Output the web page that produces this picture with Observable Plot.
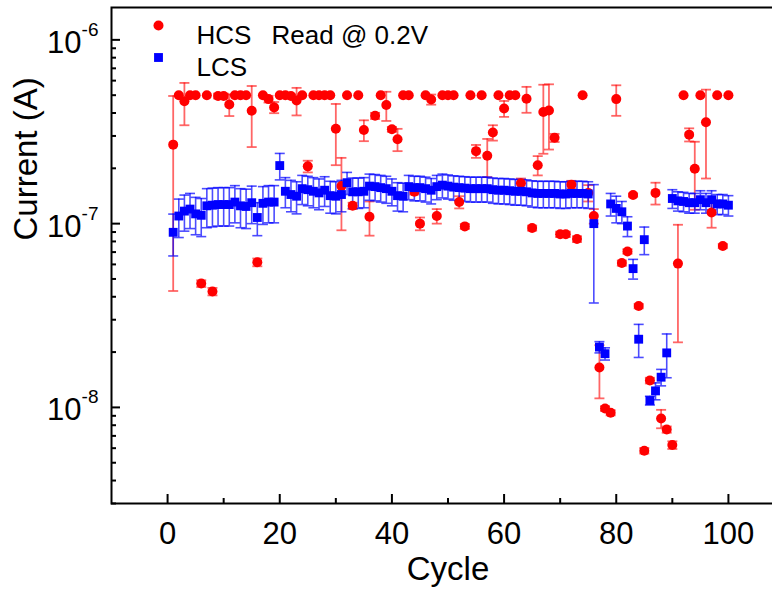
<!DOCTYPE html>
<html><head><meta charset="utf-8">
<script src="https://cdn.jsdelivr.net/npm/d3@7"></script>
<script src="https://cdn.jsdelivr.net/npm/@observablehq/plot@0.6"></script>
<style>
html,body{margin:0;padding:0;overflow:hidden;background:#fff;}
svg{max-width:none !important;}
</style></head><body>
<script>
const cycles = [
1,2,3,4,5,6,7,8,9,10,11,12,13,14,15,16,17,18,19,20,
21,22,23,24,25,26,27,28,29,30,31,32,33,34,35,36,37,38,39,40,
41,42,43,44,45,46,47,48,49,50,51,52,53,54,55,56,57,58,59,60,
61,62,63,64,65,66,67,68,69,70,71,72,73,74,75,76,77,78,79,80,
81,82,83,84,85,86,87,88,89,90,91,92,93,94,95,96,97,98,99,100];

const hcsCurrent = [
2.69e-7, 5.0e-7, 4.63e-7, 5.0e-7, 5.0e-7, 4.72e-8, 5.0e-7, 4.27e-8, 4.95e-7, 4.95e-7,
4.45e-7, 5.0e-7, 5.0e-7, 5.0e-7, 4.11e-7, 6.16e-8, 5.0e-7, 4.76e-7, 4.29e-7, 5.0e-7,
5.0e-7, 4.95e-7, 4.68e-7, 5.0e-7, 2.05e-7, 5.0e-7, 5.0e-7, 5.0e-7, 5.0e-7, 3.28e-7,
1.6e-7, 5.0e-7, 1.25e-7, 5.0e-7, 3.23e-7, 1.09e-7, 3.86e-7, 5.0e-7, 4.42e-7, 3.26e-7,
2.88e-7, 5.0e-7, 5.0e-7, 1.49e-7, 1.0e-7, 5.0e-7, 4.74e-7, 1.1e-7, 5.0e-7, 5.0e-7,
5.0e-7, 1.31e-7, 9.66e-8, 5.0e-7, 2.48e-7, 5.0e-7, 2.34e-7, 3.13e-7, 5.0e-7, 4.23e-7,
5.0e-7, 5.0e-7, 1.66e-7, 4.78e-7, 9.46e-8, 2.08e-7, 4.05e-7, 4.13e-7, 2.93e-7, 8.75e-8,
8.75e-8, 1.63e-7, 8.24e-8, 5.0e-7, 1.47e-7, 1.1e-7, 1.65e-8, 9.86e-9, 9.35e-9, 4.76e-7,
6.1e-8, 7.06e-8, 1.43e-7, 3.56e-8, 5.81e-9, 1.4e-8, 1.47e-7, 8.7e-9, 7.58e-9, 6.24e-9,
6.06e-8, 5.0e-7, 3.05e-7, 1.99e-7, 5.0e-7, 3.56e-7, 1.15e-7, 5.0e-7, 7.55e-8, 5.0e-7];

const hcsError = [
2.26e-7, 0, 1.2e-7, 0, 0, 2e-9, 0, 2e-9, 1.5e-8, 1.5e-8,
6e-8, 0, 0, 0, 1.5e-7, 3e-9, 0, 2e-8, 3e-8, 0,
0, 1e-8, 8e-8, 0, 1.5e-8, 0, 0, 0, 0, 1.2e-7,
6.8e-8, 0, 5e-9, 0, 4.2e-8, 2.3e-8, 1.5e-8, 0, 8e-8, 1e-8,
4e-8, 0, 0, 5e-9, 8e-9, 0, 3e-8, 1e-8, 0, 0,
0, 1e-8, 3e-9, 0, 2e-8, 0, 5.5e-8, 3e-8, 0, 4.2e-8,
0, 0, 1e-8, 7.7e-8, 3e-9, 2.5e-8, 1.65e-7, 1.6e-7, 1.5e-8, 3e-9,
3e-9, 8e-9, 3e-9, 0, 1.5e-8, 1e-8, 5.3e-9, 3e-10, 3e-10, 9e-8,
2e-9, 2e-9, 3e-9, 1e-9, 2e-10, 5e-10, 2e-8, 1e-9, 3e-10, 3e-10,
3.8e-8, 0, 2.5e-8, 8e-8, 0, 1.8e-7, 2e-8, 0, 2e-9, 0];

const lcsCurrent = [
8.97e-8, 1.10e-7, 1.17e-7, 1.20e-7, 1.13e-7, 1.11e-7, 1.25e-7, 1.26e-7, 1.27e-7, 1.27e-7,
1.27e-7, 1.31e-7, 1.25e-7, 1.24e-7, 1.30e-7, 1.08e-7, 1.29e-7, 1.31e-7, 1.31e-7, 2.07e-7,
1.50e-7, 1.44e-7, 1.41e-7, 1.55e-7, 1.53e-7, 1.50e-7, 1.47e-7, 1.52e-7, 1.42e-7, 1.41e-7,
1.44e-7, 1.67e-7, 1.49e-7, 1.49e-7, 1.50e-7, 1.60e-7, 1.59e-7, 1.57e-7, 1.55e-7, 1.50e-7,
1.42e-7, 1.41e-7, 1.59e-7, 1.57e-7, 1.57e-7, 1.55e-7, 1.52e-7, 1.59e-7, 1.62e-7, 1.60e-7,
1.58e-7, 1.57e-7, 1.56e-7, 1.55e-7, 1.55e-7, 1.55e-7, 1.55e-7, 1.53e-7, 1.52e-7, 1.52e-7,
1.51e-7, 1.50e-7, 1.50e-7, 1.49e-7, 1.47e-7, 1.46e-7, 1.46e-7, 1.46e-7, 1.46e-7, 1.45e-7,
1.45e-7, 1.46e-7, 1.46e-7, 1.46e-7, 1.45e-7, 1.00e-7, 2.13e-8, 1.96e-8, 1.28e-7, 1.21e-7,
1.16e-7, 9.7e-8, 5.69e-8, 2.35e-8, 8.18e-8, 1.09e-8, 1.23e-8, 1.46e-8, 1.98e-8, 1.37e-7,
1.33e-7, 1.32e-7, 1.30e-7, 1.30e-7, 1.35e-7, 1.30e-7, 1.35e-7, 1.28e-7, 1.28e-7, 1.26e-7];

const lcsError = [
2.3e-8, 2.6e-8, 2.6e-8, 2.6e-8, 2.6e-8, 2.6e-8, 3.0e-8, 3.0e-8, 3.0e-8, 3.0e-8,
3.0e-8, 3.0e-8, 3.0e-8, 3.0e-8, 3.0e-8, 2.2e-8, 3.0e-8, 3.0e-8, 3.0e-8, 3.4e-8,
2.8e-8, 2.8e-8, 2.8e-8, 2.8e-8, 2.8e-8, 2.8e-8, 2.8e-8, 2.8e-8, 2.8e-8, 2.8e-8,
2.8e-8, 2.3e-8, 2.8e-8, 2.8e-8, 2.8e-8, 2.6e-8, 2.6e-8, 2.6e-8, 2.6e-8, 2.5e-8,
2.5e-8, 2.5e-8, 2.4e-8, 2.4e-8, 2.4e-8, 2.4e-8, 2.4e-8, 2.4e-8, 2.4e-8, 2.4e-8,
2.4e-8, 2.4e-8, 2.4e-8, 2.4e-8, 2.4e-8, 2.4e-8, 2.4e-8, 2.4e-8, 2.4e-8, 2.4e-8,
2.4e-8, 2.4e-8, 2.4e-8, 2.4e-8, 2.4e-8, 2.4e-8, 2.4e-8, 2.4e-8, 2.4e-8, 2.4e-8,
2.4e-8, 2.4e-8, 2.4e-8, 2.4e-8, 2.4e-8, 6.3e-8, 1.5e-9, 1.5e-9, 1.8e-8, 2.0e-8,
1.6e-8, 1.2e-8, 7e-9, 4.8e-9, 1.4e-8, 6e-10, 1.3e-9, 1.5e-9, 5.3e-9, 1.6e-8,
1.6e-8, 1.6e-8, 1.6e-8, 1.6e-8, 1.6e-8, 1.6e-8, 1.6e-8, 1.6e-8, 1.6e-8, 1.6e-8];

const seriesNames = ["HCS", "LCS"];
const annotation = "Read @ 0.2V";
const xLabel = "Cycle";
const yLabel = "Current (A)";
const xMajorTicks = [0, 20, 40, 60, 80, 100];
const xMinorTicks = [10, 30, 50, 70, 90];
const yMajorTicks = [1e-8, 1e-7, 1e-6];
const yMinorTicks = [3e-9, 4e-9, 5e-9, 6e-9, 7e-9, 8e-9, 9e-9,
  2e-8, 3e-8, 4e-8, 5e-8, 6e-8, 7e-8, 8e-8, 9e-8,
  2e-7, 3e-7, 4e-7, 5e-7, 6e-7, 7e-7, 8e-7, 9e-7];

const hcs = cycles.map((c, i) => ({c, v: hcsCurrent[i], e: hcsError[i]}));
const lcs = cycles.map((c, i) => ({c, v: lcsCurrent[i], e: lcsError[i]}));
const hErr = hcs.filter(d => d.e > 0);
const lErr = lcs.filter(d => d.e > 0);

const W = 790, H = 599, mL = 111, mR = 6, mT = 7, mB = 96;
const innerW = W - mL - mR, innerH = H - mT - mB;
const cap = {draw(ctx) { ctx.moveTo(-5, 0); ctx.lineTo(5, 0); }};
const FONT = "'Liberation Sans', Arial, Helvetica, sans-serif";

function errMarks(rows, color, op, w) {
  return [
    Plot.ruleX(rows, {x: "c", y1: d => d.v - d.e, y2: d => d.v + d.e, stroke: color, strokeOpacity: op, strokeWidth: w}),
    Plot.dot(rows, {x: "c", y: d => d.v + d.e, symbol: cap, fill: "none", stroke: color, strokeOpacity: op, strokeWidth: w}),
    Plot.dot(rows, {x: "c", y: d => d.v - d.e, symbol: cap, fill: "none", stroke: color, strokeOpacity: op, strokeWidth: w})
  ];
}

const svg = Plot.plot({
  width: W, height: H,
  marginLeft: mL, marginRight: mR, marginTop: mT, marginBottom: mB,
  style: {fontFamily: FONT, background: "white", color: "black", overflow: "visible", maxWidth: "none"},
  x: {domain: [-10, 110]},
  y: {type: "log", domain: [3e-9, 1.5e-6]},
  marks: [
    ...errMarks(hErr, "#ff0000", 0.6, 1.8),
    ...errMarks(lErr, "#0000ff", 0.7, 1.6),
    Plot.dot(hcs, {x: "c", y: "v", r: 5, fill: "#ff0000"}),
    Plot.dot(lcs, {x: "c", y: "v", r: 5, symbol: "square", fill: "#0000ff"}),
    Plot.tickX(xMajorTicks, {x: d => d, insetTop: innerH - 9, stroke: "black", strokeWidth: 2}),
    Plot.tickX(xMinorTicks, {x: d => d, insetTop: innerH - 5, stroke: "black", strokeWidth: 2}),
    Plot.tickY(yMajorTicks, {y: d => d, insetRight: innerW - 9, stroke: "black", strokeWidth: 2}),
    Plot.tickY(yMinorTicks, {y: d => d, insetRight: innerW - 5, stroke: "black", strokeWidth: 2}),
    Plot.frame({stroke: "black", strokeWidth: 2}),
    Plot.axisX({ticks: xMajorTicks, tickSize: 0, tickPadding: 18, fontSize: 31, label: null, tickFormat: d => String(d)}),
    Plot.axisY({ticks: yMajorTicks, tickSize: 0, tickPadding: 13, fontSize: 31, dy: 3, label: null,
      tickFormat: d => "10^" + Math.round(Math.log10(d))}),
    Plot.text([xLabel], {frameAnchor: "bottom", dy: 76, fontSize: 33, text: d => d}),
    Plot.text([yLabel], {frameAnchor: "left", dx: -85, dy: -15, rotate: -90, fontSize: 33, text: d => d}),
    Plot.dot([seriesNames[0]], {frameAnchor: "top-left", dx: 47, dy: 18, r: 5, fill: "#ff0000"}),
    Plot.dot([seriesNames[1]], {frameAnchor: "top-left", dx: 47, dy: 50, r: 5, symbol: "square", fill: "#0000ff"}),
    Plot.text([seriesNames[0]], {frameAnchor: "top-left", dx: 85, dy: 18, textAnchor: "start", fontSize: 26, text: d => d}),
    Plot.text([seriesNames[1]], {frameAnchor: "top-left", dx: 85, dy: 50, textAnchor: "start", fontSize: 26, text: d => d}),
    Plot.text([annotation], {frameAnchor: "top-left", dx: 160, dy: 18, textAnchor: "start", fontSize: 26, text: d => d})
  ]
});

svg.style.maxWidth = "none";
svg.style.width = W + "px";
svg.style.height = H + "px";

const ns = "http://www.w3.org/2000/svg";
svg.querySelectorAll('g[aria-label="y-axis tick label"] text').forEach(t => {
  const s = t.textContent;
  const parts = s.split("^");
  if (parts.length !== 2) return;
  t.textContent = "";
  const a = document.createElementNS(ns, "tspan");
  a.textContent = parts[0];
  const b = document.createElementNS(ns, "tspan");
  b.setAttribute("dy", "-17");
  b.setAttribute("font-size", "19");
  b.textContent = parts[1];
  t.appendChild(a); t.appendChild(b);
});
document.body.appendChild(svg);
</script>
</body></html>
